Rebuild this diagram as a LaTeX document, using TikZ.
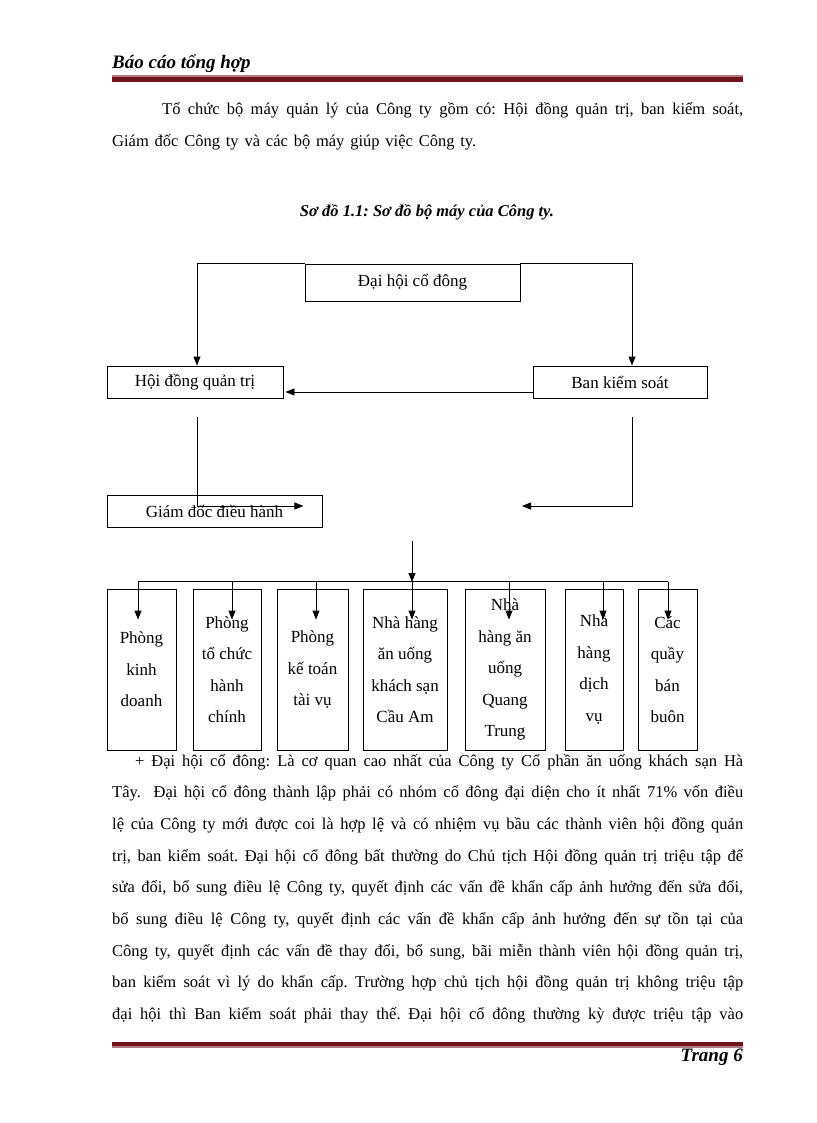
\documentclass[tikz,border=0pt]{standalone}
\usepackage{fontspec}
\setmainfont{Liberation Serif}
\usetikzlibrary{arrows.meta}
\frenchspacing
\definecolor{rulered}{RGB}{110,22,28}
\definecolor{rulepink}{RGB}{178,122,132}
\tikzset{
  box/.style={draw, line width=0.9pt, inner sep=0pt, align=center,
    font=\fontsize{17}{31.5}\selectfont},
  conn/.style={line width=0.9pt},
  arr/.style={conn, -{Triangle[length=9pt,width=7pt]}},
  txt/.style={anchor=base west, inner sep=0pt, font=\fontsize{16.5}{20}\selectfont},
  bi/.style={inner sep=0pt, font=\fontsize{19}{22}\selectfont\bfseries\itshape}
}
% box from its corners: name, x1, y1, x2, y2, text
\newcommand{\obox}[6]{%
  \node[box, minimum width={#4-#2}, minimum height={#5-#3}] (#1)
    at ({(#2+#4)/2},{(#3+#5)/2}) {#6};}
% one stretched line of text: name, x, y, right end, text
\newcommand{\jline}[5]{\node[txt] (#1) at (#2,#3)
  {\makebox[\dimexpr #4pt-#2pt\relax][s]{#5}};}
\begin{document}
\begin{tikzpicture}[x=1pt,y=-1pt]
  \path[fill=white,use as bounding box] (0,0) rectangle (816,1123);

  % page head and foot
  \node[bi, anchor=base west] (head) at (112,69) {Báo cáo tổng hợp};
  \fill[rulepink] (112,75) rectangle (743,76.7);
  \fill[rulered] (112,77) rectangle (743,82);
  \fill[rulered] (112,1042) rectangle (743,1046);
  \fill[rulepink] (112,1046.3) rectangle (743,1048);
  \node[bi, anchor=base east] (page) at (743,1061) {Trang 6};

  % opening text
  \jline{intro1}{162}{115}{743}{Tổ chức bộ máy quản lý của Công ty gồm có: Hội đồng quản trị, ban kiểm soát,}
  \jline{intro2}{112}{147}{476}{Giám đốc Công ty và các bộ máy giúp việc Công ty.}
  \node[bi, anchor=base, font=\fontsize{16.5}{20}\selectfont\bfseries\itshape] (title) at (427,217)
    {Sơ đồ 1.1: Sơ đồ bộ máy của Công ty.};

  % chart
  \obox{dhcd}{305}{264}{520}{301}{Đại hội cổ đông}
  \obox{hdqt}{107}{366}{283}{398}{Hội đồng quản trị}
  \obox{bks}{533}{366}{707}{398}{Ban kiểm soát}
  \obox{gd}{107}{495}{322}{527}{Giám đốc điều hành}

  \obox{pkd}{107}{589}{176}{750}{Phòng\\kinh\\doanh}
  \obox{ptc}{193}{589}{261}{750}{Phòng\\tổ chức\\hành\\chính}
  \obox{pkt}{277}{589}{348}{750}{Phòng\\kế toán\\tài vụ}
  \obox{nhc}{363}{589}{447}{750}{Nhà hàng\\ăn uống\\khách sạn\\Cầu Am}
  \obox{nhq}{465}{589}{545}{750}{Nhà\\hàng ăn\\uống\\Quang\\Trung}
  \obox{ndv}{565}{589}{623}{750}{Nhà\\hàng\\dịch\\vụ}
  \obox{cqb}{638}{589}{697}{750}{Các\\quầy\\bán\\buôn}

  \draw[arr] (dhcd.north west) -| ([xshift=2pt]hdqt.north);
  \draw[arr] (dhcd.north east) -| ([xshift=12pt]bks.north);
  \draw[arr] ([yshift=-10pt]bks.west) -- ([xshift=2pt,yshift=-10pt]hdqt.east);
  \draw[arr] ([xshift=2pt,yshift=-19pt]hdqt.south) |- ([xshift=-19pt,yshift=5pt]gd.east);
  \coordinate (ksend) at (522,506);
  \draw[arr] ([xshift=12pt,yshift=-19pt]bks.south) |- (ksend);

  \coordinate (ctop) at (412,541);
  \coordinate (bus) at (412,582);
  \draw[arr] (ctop) -- (bus);
  \draw[conn] ([xshift=-3.5pt,yshift=7pt]pkd.north) -- ([xshift=0.5pt,yshift=7pt]cqb.north);
  \foreach \b/\dx in {pkd/-3.5,ptc/5,pkt/3.5,nhc/7,nhq/4,ndv/9,cqb/0.5}
    \draw[arr] ([xshift=\dx pt,yshift=7pt]\b.north) -- ([xshift=\dx pt,yshift=-31pt]\b.north);

  % body text
  \jline{b1}{135}{766}{743}{+ Đại hội cổ đông: Là cơ quan cao nhất của Công ty Cổ phần ăn uống khách sạn Hà}
  \jline{b2}{112}{797.7}{743}{Tây.\ \ Đại hội cổ đông thành lập phải có nhóm cổ đông đại diện cho ít nhất 71\% vốn điều}
  \jline{b3}{112}{829.3}{743}{lệ của Công ty mới được coi là hợp lệ và có nhiệm vụ bầu các thành viên hội đồng quản}
  \jline{b4}{112}{861}{743}{trị, ban kiểm soát. Đại hội cổ đông bất thường do Chủ tịch Hội đồng quản trị triệu tập để}
  \jline{b5}{112}{892.6}{743}{sửa đổi, bổ sung điều lệ Công ty, quyết định các vấn đề khẩn cấp ảnh hưởng đến sửa đổi,}
  \jline{b6}{112}{924.3}{743}{bổ sung điều lệ Công ty, quyết định các vấn đề khẩn cấp ảnh hưởng đến sự tồn tại của}
  \jline{b7}{112}{956}{743}{Công ty, quyết định các vấn đề thay đổi, bổ sung, bãi miễn thành viên hội đồng quản trị,}
  \jline{b8}{112}{987.6}{743}{ban kiểm soát vì lý do khẩn cấp. Trường hợp chủ tịch hội đồng quản trị không triệu tập}
  \jline{b9}{112}{1019.3}{743}{đại hội thì Ban kiểm soát phải thay thế. Đại hội cổ đông thường kỳ được triệu tập vào}
\end{tikzpicture}
\end{document}
